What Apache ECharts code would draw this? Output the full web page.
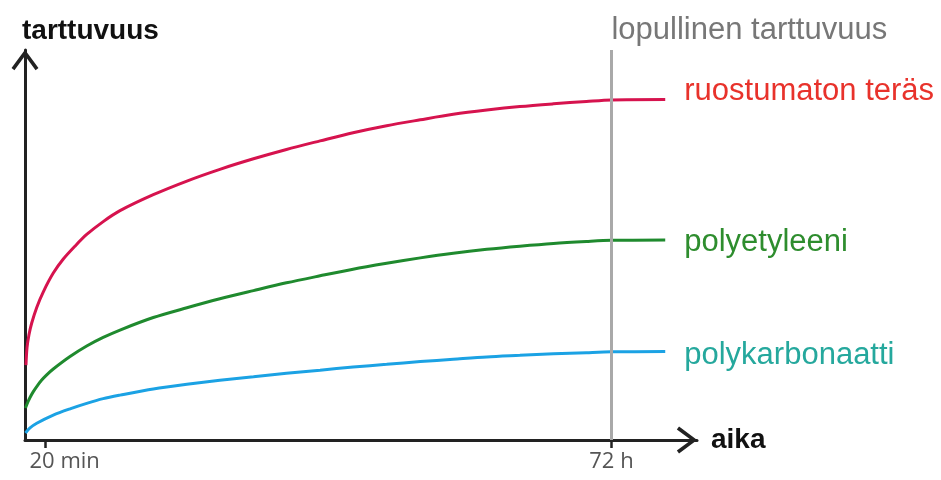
<!DOCTYPE html>
<html>
<head>
<meta charset="utf-8">
<script src="https://cdn.jsdelivr.net/npm/echarts@6/dist/echarts.min.js"></script>
<style>html,body{margin:0;padding:0;background:#fff}#c{width:941px;height:480px}</style>
</head>
<body>
<div id="c"></div>
<script>
// schematic time axis (0..110), 72 h sits at 96
const seriesNames = ['ruostumaton teräs', 'polyetyleeni', 'polykarbonaatti'];
const timeRed  = [0.16, 0.33, 0.65, 1.10, 1.92, 3.0, 4.63, 6.27, 8.18, 10.1, 12.8, 15.55, 21.0, 26.5, 31.9, 37.4, 42.8, 48.3, 53.7, 59.2, 64.7, 70.1, 75.6, 81.0, 86.5, 91.9, 96.0, 104.8];
const valueRed = [19.2, 23.7, 27.0, 30.0, 34.0, 38.0, 42.8, 46.4, 49.7, 52.7, 56.0, 58.8, 62.9, 66.4, 69.4, 72.1, 74.5, 76.7, 78.8, 80.6, 82.1, 83.5, 84.6, 85.5, 86.2, 86.8, 87.2, 87.3];
const timeGreen  = [0.08, 0.49, 0.82, 1.36, 1.92, 2.70, 3.55, 4.63, 7.37, 10.1, 12.8, 15.55, 21.0, 26.5, 31.9, 37.4, 42.8, 48.3, 53.7, 59.2, 64.7, 70.1, 75.6, 81.0, 86.5, 91.9, 96.0, 104.8];
const valueGreen = [8.2, 9.8, 10.9, 12.4, 13.7, 15.3, 16.7, 18.2, 21.4, 24.1, 26.3, 28.2, 31.4, 33.9, 36.2, 38.3, 40.3, 42.1, 43.8, 45.3, 46.7, 47.9, 48.9, 49.7, 50.4, 50.9, 51.2, 51.3];
const timeBlue  = [0.08, 0.82, 1.92, 4.63, 7.37, 10.1, 12.8, 15.55, 21.0, 26.5, 31.9, 37.4, 42.8, 48.3, 53.7, 59.2, 64.7, 70.1, 75.6, 81.0, 86.5, 91.9, 96.0, 104.8];
const valueBlue = [1.8, 3.1, 4.3, 6.4, 8.0, 9.4, 10.6, 11.5, 13.1, 14.3, 15.3, 16.2, 17.1, 17.9, 18.7, 19.4, 20.1, 20.7, 21.3, 21.7, 22.1, 22.4, 22.6, 22.7];
const tickValues = [3.3, 96];
const tickLabels = ['20 min', '72 h'];
const finalTime = 96;
const axisNames = { x: 'aika', y: 'tarttuvuus' };
const finalLabel = 'lopullinen tarttuvuus';

const zip = (xs, ys) => xs.map((x, i) => [x, ys[i]]);
const chevron = 'path://M0,17.5 L13,0 L26,17.5 L23.2,19.6 L13,5.8 L2.8,19.6 Z';
const axisLineCommon = {
  show: true,
  symbol: ['none', chevron],
  symbolSize: [27, 20.3],
  symbolOffset: [0, -10],
  lineStyle: { color: '#222', width: 3 }
};

const chart = echarts.init(document.getElementById('c'), null, { renderer: 'canvas' });
chart.setOption({
  animation: false,
  backgroundColor: '#fff',
  grid: { left: 25, right: 244, top: 50, bottom: 40, containLabel: false, outerBoundsMode: 'none' },
  xAxis: {
    type: 'value', min: 0, max: 110,
    name: axisNames.x, nameLocation: 'end', nameGap: 14,
    nameTextStyle: { color: '#111', fontSize: 28, fontWeight: 'bold', fontFamily: 'Liberation Sans' },
    axisLine: axisLineCommon,
    axisTick: { show: true, customValues: tickValues, length: 8, lineStyle: { color: '#222', width: 2.5 } },
    axisLabel: {
      show: true, customValues: tickValues, margin: 11,
      color: '#555', fontSize: 22, fontFamily: 'Open Sans',
      formatter: v => {
        const i = tickValues.indexOf(v);
        const t = i >= 0 ? tickLabels[i] : '';
        return i === 0 ? '{a|' + t + '}' : t;
      },
      rich: { a: { color: '#555', fontSize: 22, fontFamily: 'Open Sans', padding: [0, 0, 0, 39] } }
    },
    splitLine: { show: false }
  },
  yAxis: {
    type: 'value', min: 0, max: 100,
    name: axisNames.y, nameLocation: 'end', nameGap: 5,
    nameTextStyle: { color: '#111', fontSize: 28, fontWeight: 'bold', fontFamily: 'Liberation Sans', align: 'left', padding: [0, 0, 0, -3] },
    axisLine: axisLineCommon,
    axisTick: { show: false },
    axisLabel: { show: false },
    splitLine: { show: false }
  },
  series: [
    {
      name: seriesNames[0], type: 'line', data: zip(timeRed, valueRed),
      smooth: 0.3, showSymbol: false, symbol: 'none',
      lineStyle: { color: '#d6134e', width: 3 },
      endLabel: { show: true, formatter: '{a}', distance: 19, offset: [0, -8], color: '#e8322b', fontSize: 31, fontFamily: 'Liberation Sans' },
      markLine: {
        silent: true, symbol: 'none',
        lineStyle: { color: '#a9a9a9', width: 3, type: 'solid' },
        label: { show: true, position: 'end', formatter: finalLabel, color: '#777', fontSize: 31, fontFamily: 'Liberation Sans', align: 'left', distance: 4, offset: [0, 0] },
        data: [{ xAxis: finalTime }]
      },
      z: 3
    },
    {
      name: seriesNames[1], type: 'line', data: zip(timeGreen, valueGreen),
      smooth: 0.3, showSymbol: false, symbol: 'none',
      lineStyle: { color: '#1f8a2e', width: 3 },
      endLabel: { show: true, formatter: '{a}', distance: 19, offset: [0, 3], color: '#2e8d2e', fontSize: 31, fontFamily: 'Liberation Sans' },
      z: 3
    },
    {
      name: seriesNames[2], type: 'line', data: zip(timeBlue, valueBlue),
      smooth: 0.3, showSymbol: false, symbol: 'none',
      lineStyle: { color: '#1ba2e4', width: 3 },
      endLabel: { show: true, formatter: '{a}', distance: 19, offset: [0, 4], color: '#25a89d', fontSize: 31, fontFamily: 'Liberation Sans' },
      z: 3
    }
  ]
});
</script>
</body>
</html>
